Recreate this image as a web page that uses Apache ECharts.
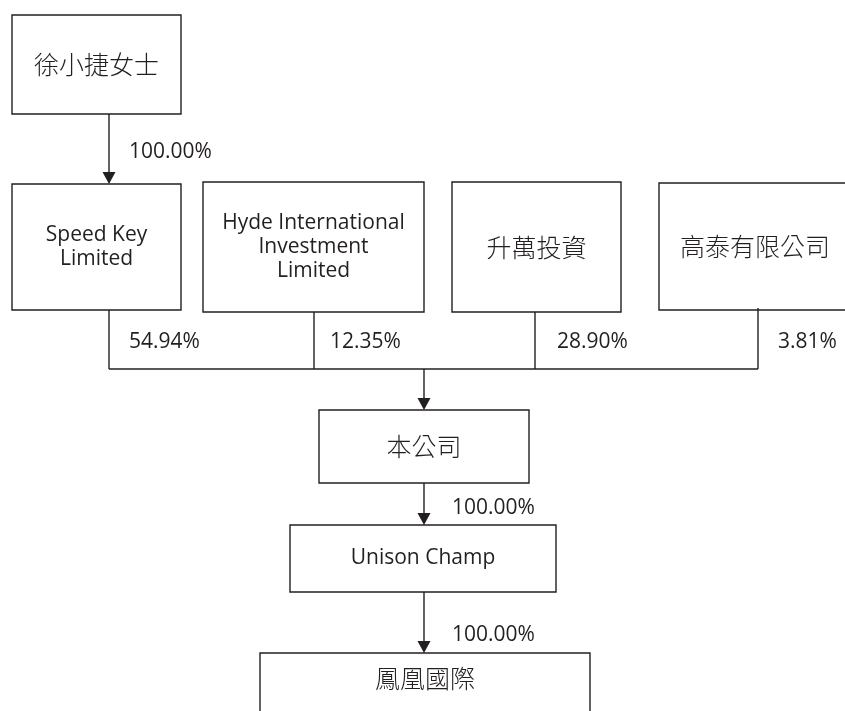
<!DOCTYPE html>
<html>
<head>
<meta charset="utf-8">
<script src="https://cdn.jsdelivr.net/npm/echarts@6/dist/echarts.min.js"></script>
<style>
  html, body { margin: 0; padding: 0; background: #fff; }
  #chart { width: 845px; height: 711px; }
</style>
</head>
<body>
<div id="chart"></div>
<script>
// shareholding data
const topHolder = '徐小捷女士';
const topShare = '100.00%';
const owners = ['Speed Key\nLimited', 'Hyde International\nInvestment\nLimited', '升萬投資', '高泰有限公司'];
const ownerShares = ['54.94%', '12.35%', '28.90%', '3.81%'];
const chain = ['本公司', 'Unison Champ', '鳳凰國際'];
const chainShares = ['100.00%', '100.00%'];

// layout (page units, y downwards)
const topBox = [12, 15, 181, 114];
const ownerBoxes = [[12, 184, 181, 310], [203, 182, 424, 312], [452, 182, 621, 312], [659, 183, 851, 310]];
const ownerDrop = [109, 314, 535, 758];
const ownerLabelX = [129, 330, 557, 778];
const chainBoxes = [[319, 410, 529, 483], [290, 525, 556, 592], [260, 653, 590, 760]];
const busY = 369;
const mainX = 424;

const ink = '#231f20';
const cjk = /[\u4e00-\u9fff]/;
const latinFont = '"Open Sans", "Noto Sans", sans-serif';
const cjkFont = '"Noto Sans CJK TC", "Noto Sans CJK SC", sans-serif';

// boxes
const boxData = [];
boxData.push([...topBox, topHolder]);
owners.forEach((n, i) => boxData.push([...ownerBoxes[i], n]));
chain.forEach((n, i) => boxData.push([...chainBoxes[i], n]));

// connectors [x0, y0, x1, y1, arrow]
const lineData = [[109, topBox[3], 109, ownerBoxes[0][1], 1]];
ownerDrop.forEach((x, i) => lineData.push([x, ownerBoxes[i][3] - (i === 3 ? 2 : 0), x, busY, 0]));
lineData.push([ownerDrop[0], busY, ownerDrop[3], busY, 0]);
lineData.push([mainX, busY, mainX, chainBoxes[0][1], 1]);
lineData.push([mainX, chainBoxes[0][3], mainX, chainBoxes[1][1], 1]);
lineData.push([mainX, chainBoxes[1][3], mainX, chainBoxes[2][1], 1]);

// percentage labels [x, y, text]
const labelData = [[129, 152, topShare]];
ownerShares.forEach((s, i) => labelData.push([ownerLabelX[i], 342, s]));
labelData.push([452, 508, chainShares[0]]);
labelData.push([452, 635, chainShares[1]]);

const chart = echarts.init(document.getElementById('chart'));

const option = {
  animation: false,
  grid: { left: 0, right: 0, top: 0, bottom: 0 },
  xAxis: { type: 'value', min: 0, max: 845, show: false },
  yAxis: { type: 'value', min: 0, max: 711, inverse: true, show: false },
  series: [
    {
      type: 'custom',
      data: boxData,
      encode: { x: [0, 2], y: [1, 3] },
      renderItem: function (params, api) {
        const d = boxData[params.dataIndex];
        const p0 = api.coord([d[0], d[1]]);
        const p1 = api.coord([d[2], d[3]]);
        const isCjk = cjk.test(d[4]);
        // the last box runs off the bottom of the page, so its name sits near the top
        const cut = d[3] > 711;
        return {
          type: 'group',
          children: [
            {
              type: 'rect',
              shape: { x: p0[0], y: p0[1], width: p1[0] - p0[0], height: p1[1] - p0[1] },
              style: { fill: '#fff', stroke: ink, lineWidth: 1.4 }
            },
            {
              type: 'text',
              style: {
                text: d[4],
                x: (p0[0] + p1[0]) / 2,
                y: cut ? p0[1] + 25 : (p0[1] + p1[1]) / 2,
                align: 'center',
                verticalAlign: 'middle',
                fill: ink,
                fontSize: isCjk ? 25 : 21,
                fontWeight: isCjk ? 300 : 'normal',
                fontFamily: isCjk ? cjkFont : latinFont,
                lineHeight: 24
              }
            }
          ]
        };
      }
    },
    {
      type: 'custom',
      data: lineData,
      encode: { x: [0, 2], y: [1, 3] },
      renderItem: function (params, api) {
        const d = lineData[params.dataIndex];
        const p0 = api.coord([d[0], d[1]]);
        const p1 = api.coord([d[2], d[3]]);
        const children = [{
          type: 'line',
          shape: { x1: p0[0], y1: p0[1], x2: p1[0], y2: p1[1] - (d[4] ? 6 : 0) },
          style: { stroke: ink, lineWidth: 1.4 }
        }];
        if (d[4]) {
          children.push({
            type: 'polygon',
            shape: { points: [[p1[0] - 6.5, p1[1] - 12], [p1[0] + 6.5, p1[1] - 12], [p1[0], p1[1]]] },
            style: { fill: ink }
          });
        }
        return { type: 'group', children: children };
      }
    },
    {
      type: 'custom',
      data: labelData,
      encode: { x: 0, y: 1 },
      renderItem: function (params, api) {
        const d = labelData[params.dataIndex];
        const p = api.coord([d[0], d[1]]);
        return {
          type: 'text',
          style: {
            text: d[2],
            x: p[0],
            y: p[1],
            align: 'left',
            verticalAlign: 'middle',
            fill: ink,
            fontSize: 21,
            fontFamily: latinFont
          }
        };
      }
    }
  ]
};

option && chart.setOption(option);
</script>
</body>
</html>
